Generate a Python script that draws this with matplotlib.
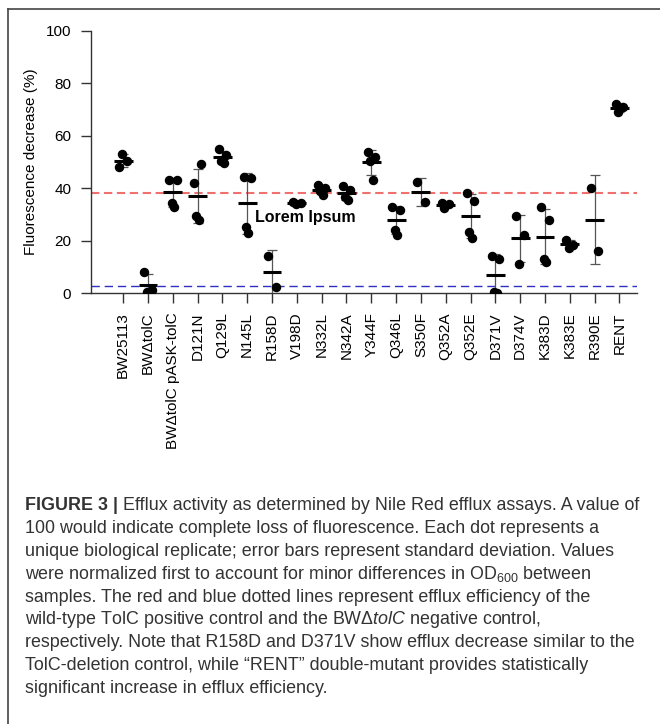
import matplotlib

matplotlib.use("Agg")
import matplotlib.pyplot as plt
import numpy as np
from matplotlib.lines import Line2D

plt.rcParams["font.family"] = ["Liberation Sans", "DejaVu Sans"]
plt.rcParams["mathtext.fontset"] = "custom"
plt.rcParams["mathtext.rm"] = "Liberation Sans"
plt.rcParams["mathtext.it"] = "Liberation Sans:italic"

# strains on the x axis
strains = [
    "BW25113", "BWΔtolC", "BWΔtolC pASK-tolC", "D121N", "Q129L", "N145L",
    "R158D", "V198D", "N332L", "N342A", "Y344F", "Q346L", "S350F", "Q352A",
    "Q352E", "D371V", "D374V", "K383D", "K383E", "R390E", "RENT",
]

# fluorescence decrease (%) for each biological replicate
replicates = [
    [48.2, 50.3, 53.0],
    [8.0, 1.0, 0.5],
    [43.2, 43.2, 34.3, 33.0],
    [41.9, 49.2, 29.2, 27.9],
    [55.0, 52.5, 50.5, 49.5],
    [44.4, 44.0, 25.3, 23.0],
    [14.1, 2.2],
    [34.8, 34.2, 34.0],
    [41.3, 40.2, 38.8, 37.5],
    [40.9, 39.5, 36.5, 35.5],
    [54.0, 51.9, 50.2, 43.2],
    [33.0, 31.7, 24.1, 22.2],
    [42.2, 34.9],
    [34.5, 33.8, 32.6],
    [38.1, 35.2, 23.2, 21.1],
    [14.3, 13.1, 0.3, 0.0],
    [29.2, 22.2, 11.1],
    [33.0, 27.9, 13.0, 12.0],
    [20.3, 18.3, 17.1],
    [40.0, 16.0],
    [72.2, 71.0, 69.0],
]

positive_control = 38.3  # wild-type TolC
negative_control = 2.8   # BW delta tolC

caption = [
    "Efflux activity as determined by Nile Red efflux assays. A value of",
    "100 would indicate complete loss of fluorescence. Each dot represents a",
    "unique biological replicate; error bars represent standard deviation. Values",
    "were normalized first to account for minor differences in OD$_{600}$ between",
    "samples. The red and blue dotted lines represent efflux efficiency of the",
    "wild-type TolC positive control and the BWΔ$\\mathit{tolC}$ negative control,",
    "respectively. Note that R158D and D371V show efflux decrease similar to the",
    "TolC-deletion control, while “RENT” double-mutant provides statistically",
    "significant increase in efflux efficiency.",
]

W, H = 660, 724
fig = plt.figure(figsize=(W / 100, H / 100), dpi=100)
ax = fig.add_axes([90.7 / W, 1 - 293 / H, (637 - 90.7) / W, (293 - 31) / H])

axis_color = "#333333"
jitter = [-0.15, 0.15, -0.05, 0.05]

for i, vals in enumerate(replicates):
    vals = np.asarray(vals)
    offs = np.array(jitter[: len(vals)])
    ax.plot(i + offs, vals, "o", color="black", markersize=5.8, zorder=4)
    mean = vals.mean()
    sd = vals.std(ddof=1)
    ax.errorbar(i, mean, yerr=sd, fmt="none", ecolor="#555555",
                elinewidth=0.9, capsize=3.6, capthick=0.9, zorder=3)
    ax.hlines(mean, i - 0.38, i + 0.38, color="black", linewidth=2.2, zorder=5)

ax.axhline(positive_control, color="#f07070", linewidth=1.5,
           dashes=(4, 2.2), zorder=2)
ax.axhline(negative_control, color="#3030c0", linewidth=1.0,
           dashes=(6, 3.5), zorder=2)

ax.text(7.33, 29.0, "Lorem Ipsum", fontsize=11.5, fontweight="bold",
        ha="center", va="center", zorder=6)

ax.set_xlim(-1.31, 20.71)
ax.set_ylim(0, 100)
ax.set_yticks([0, 20, 40, 60, 80, 100])
ax.set_xticks(range(len(strains)))
ax.set_xticklabels(strains, rotation=90, fontsize=11)
ax.tick_params(axis="y", labelsize=11)
ax.tick_params(direction="out", length=7, width=1, pad=7, colors=axis_color,
               labelcolor="black")
ax.set_ylabel("Fluorescence decrease (%)", fontsize=11)
ax.yaxis.set_label_coords(-0.0965, 0.5)

for side in ("top", "right"):
    ax.spines[side].set_visible(False)
for side in ("left", "bottom"):
    ax.spines[side].set_color(axis_color)
    ax.spines[side].set_linewidth(1)

# frame round the panel (top and left edges only)
fig.add_artist(Line2D([8 / W, 1], [1 - 8.5 / H, 1 - 8.5 / H],
                      color="#444444", linewidth=1.2))
fig.add_artist(Line2D([8 / W, 8 / W], [1 - 8.5 / H, 0],
                      color="#444444", linewidth=1.2))

cap_color = "#333333"
cap_size = 12.9
x0 = 25 / W
for k, line in enumerate(caption):
    y = 1 - (510 + 22.9 * k) / H
    if k == 0:
        t = fig.text(x0, y, "FIGURE 3 | ", fontsize=cap_size, fontweight="bold",
                     color=cap_color, va="baseline")
        fig.canvas.draw()
        bb = t.get_window_extent()
        fig.text(bb.x1 / W, y, line, fontsize=cap_size, color=cap_color,
                 va="baseline")
    else:
        fig.text(x0, y, line, fontsize=cap_size, color=cap_color, va="baseline")

fig.savefig("out.png", dpi=100)
